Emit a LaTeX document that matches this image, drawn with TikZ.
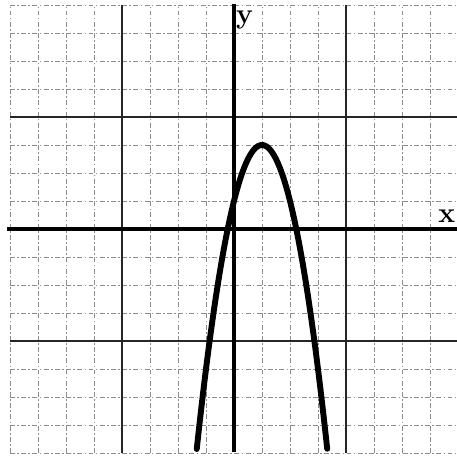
\documentclass[tikz,border=0pt]{standalone}
\begin{document}
\begin{tikzpicture}[x=0.5cm,y=0.5cm,
  minorgrid/.style={black!45,line width=0.45pt,dash pattern=on 2.5pt off 1.2pt on 0.8pt off 1.2pt},
  majorgrid/.style={black!85,line width=0.75pt},
  axisline/.style={black,line width=2pt},
  curveline/.style={black,line width=3pt,line cap=round},
  axlabel/.style={font=\bfseries\Large,inner sep=0pt}]
\useasboundingbox (-8.357,-8.214) rectangle (7.964,8.179);
\begin{scope}
\clip (-8.357,-8.214) rectangle (7.964,8.179);
\foreach \k in {-7,-6,-5,-3,-2,-1,1,2,3,5,6,7}{
  \draw[minorgrid] (-8,\k) -- (8,\k);
  \draw[minorgrid] (\k,-8) -- (\k,8);
}
\draw[minorgrid] (-8,-8) -- (8,-8);
\draw[minorgrid] (-8,8) -- (8,8);
\draw[minorgrid] (-8,-8) -- (-8,8);
\foreach \k in {-4,4}{
  \draw[majorgrid] (-8,\k) -- (8,\k);
  \draw[majorgrid] (\k,-8) -- (\k,8);
}
\coordinate (xl) at (-8.1,0);
\coordinate (xr) at (8.2,0);
\coordinate (yt) at (0,8.05);
\coordinate (yb) at (0,-7.95);
\draw[axisline] (xl) -- (xr);
\draw[axisline] (yb) -- (yt);
\draw[curveline] plot[domain=-1.33:3.33,samples=80,smooth] (\x,{-2*(\x-1)*(\x-1)+3});
\node[axlabel] (ylab) at (0.38,7.45) {y};
\node[axlabel] (xlab) at (7.6,0.45) {x};
\end{scope}
\end{tikzpicture}
\end{document}
